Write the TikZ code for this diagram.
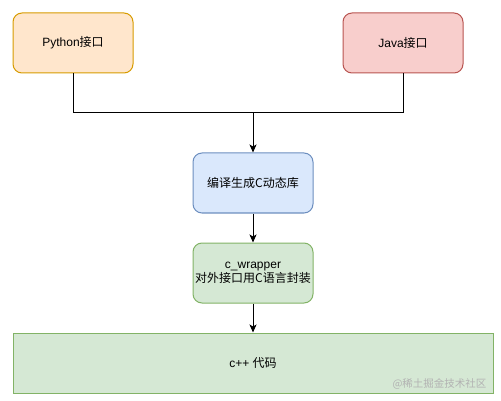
\documentclass[tikz,border=0pt]{standalone}
\usepackage{fontspec}
\setmainfont{Liberation Sans}
\newfontfamily\cjk{Noto Sans CJK SC}
\usepackage{tikz}
\usetikzlibrary{arrows.meta, positioning}

\definecolor{pyfill}{HTML}{FFE6CC}
\definecolor{pydraw}{HTML}{D79B00}
\definecolor{javafill}{HTML}{F8CECC}
\definecolor{javadraw}{HTML}{B85450}
\definecolor{libfill}{HTML}{DAE8FC}
\definecolor{libdraw}{HTML}{6C8EBF}
\definecolor{cfill}{HTML}{D5E8D4}
\definecolor{cdraw}{HTML}{82B366}

\begin{document}
\begin{tikzpicture}[
    x=1pt, y=-1pt,
    box/.style={
        draw,
        line width=1pt,
        rounded corners=9pt,
        align=center,
        minimum width=120pt,
        minimum height=60pt,
        inner sep=0pt,
        font=\fontsize{12}{14.5}\selectfont
    },
    arrow/.style={-{Stealth[length=8pt, width=7pt, inset=2pt]}, line width=1pt},
    link/.style={line width=1pt}
]

\useasboundingbox (0,0) rectangle (501,401);

% --- Interface boxes
\node[box, fill=pyfill, draw=pydraw] (python) at (73,43) {Python{\cjk 接口}};
\node[box, fill=javafill, draw=javadraw] (java) at (403,43) {Java{\cjk 接口}};

% --- Library and wrapper
\node[box, fill=libfill, draw=libdraw] (lib) at (253,183) {\cjk 编译生成C动态库};
\node[box, fill=cfill, draw=cdraw] (wrapper) at (253,273) {c\_wrapper\\{\cjk 对外接口用C语言封装}};

% --- Bottom box
\node[box, rounded corners=0pt, fill=cfill, draw=cdraw, minimum width=480pt] (cpp) at (253,363) {c++ {\cjk 代码}};

% --- Connectors
\coordinate (join) at (253,113);
\draw[link] (python.south) |- (join);
\draw[link] (java.south) |- (join);
\draw[arrow] (join) -- (lib.north);
\draw[arrow] (lib.south) -- (wrapper.north);
\draw[arrow] (wrapper.south) -- (cpp.north);

% --- Watermark
\node[anchor=east, text=black!30, font=\fontsize{10.5}{12}\selectfont] (mark) at (490,384) {\cjk @稀土掘金技术社区};

\end{tikzpicture}
\end{document}
